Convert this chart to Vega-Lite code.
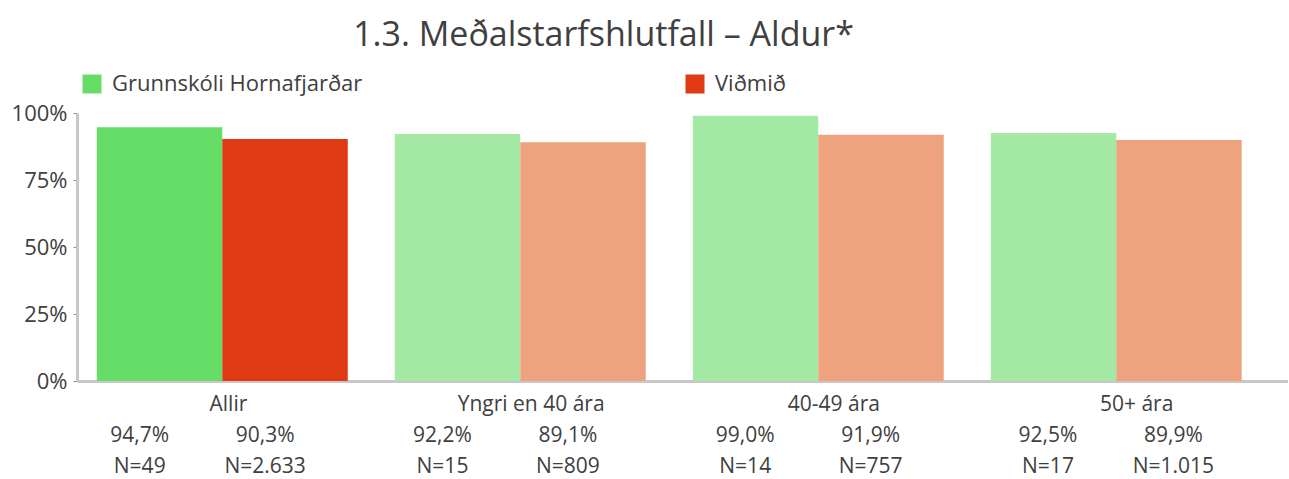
{
  "$schema": "https://vega.github.io/schema/vega-lite/v6.json",
  "padding": {"left": 11, "top": 19, "right": 0, "bottom": 0},
  "config": {
    "font": "Open Sans",
    "view": {"stroke": null},
    "locale": {"number": {"decimal": ",", "thousands": ".", "grouping": [3], "currency": ["", " kr."]}},
    "text": {"color": "#404040"}
  },
  "title": {"text": "1.3. Meðalstarfshlutfall – Aldur*", "fontSize": 34, "fontWeight": "normal", "color": "#404040", "font": "Open Sans", "anchor": "middle", "dx": -46, "offset": 20},
  "data": {"values": [
    {"aldur": "Allir", "hopur": "Grunnskóli Hornafjarðar", "pct": 0.947, "n": 49},
    {"aldur": "Allir", "hopur": "Viðmið", "pct": 0.903, "n": 2633},
    {"aldur": "Yngri en 40 ára", "hopur": "Grunnskóli Hornafjarðar", "pct": 0.922, "n": 15},
    {"aldur": "Yngri en 40 ára", "hopur": "Viðmið", "pct": 0.891, "n": 809},
    {"aldur": "40-49 ára", "hopur": "Grunnskóli Hornafjarðar", "pct": 0.990, "n": 14},
    {"aldur": "40-49 ára", "hopur": "Viðmið", "pct": 0.919, "n": 757},
    {"aldur": "50+ ára", "hopur": "Grunnskóli Hornafjarðar", "pct": 0.925, "n": 17},
    {"aldur": "50+ ára", "hopur": "Viðmið", "pct": 0.899, "n": 1015}
  ]},
  "spacing": 0,
  "vconcat": [
    {
      "width": 1211,
      "height": 268,
      "mark": {"type": "bar"},
      "encoding": {
        "x": {"field": "aldur", "type": "nominal",
              "scale": {"domain": ["Allir", "Yngri en 40 ára", "40-49 ára", "50+ ára"], "paddingInner": 0.158, "paddingOuter": 0.111, "align": 0.3},
              "axis": {"labels": false, "ticks": false, "title": null, "domainColor": "#c8c8c8", "domainWidth": 3}},
        "xOffset": {"field": "hopur", "type": "nominal", "scale": {"domain": ["Grunnskóli Hornafjarðar", "Viðmið"], "padding": 0}},
        "y": {"field": "pct", "type": "quantitative",
              "scale": {"domain": [0, 1], "nice": false},
              "axis": {"values": [0, 0.25, 0.5, 0.75, 1], "format": ".0%", "title": null, "grid": false,
                       "labelFontSize": 22, "labelColor": "#404040", "labelFont": "Open Sans", "tickSize": 4, "tickColor": "#909090",
                       "domainColor": "#c8c8c8", "domainWidth": 3, "labelPadding": 6}},
        "color": {
          "condition": [
            {"test": "datum.aldur !== 'Allir' && datum.hopur === 'Grunnskóli Hornafjarðar'", "value": "#a4e9a4"},
            {"test": "datum.aldur !== 'Allir' && datum.hopur === 'Viðmið'", "value": "#eea27e"}
          ],
          "field": "hopur", "type": "nominal",
          "scale": {"domain": ["Grunnskóli Hornafjarðar", "Viðmið"], "range": ["#66dd66", "#df3a13"]},
          "legend": {"orient": "none", "legendX": 4, "legendY": -40, "direction": "horizontal", "columns": 2, "columnPadding": 321,
                     "title": null, "symbolType": "square", "symbolSize": 361, "symbolStrokeWidth": 0,
                     "labelFontSize": 22, "labelColor": "#404040", "labelFont": "Open Sans", "labelOffset": 9, "labelLimit": 400}
        }
      }
    },
    {
      "width": 1211,
      "height": 88,
      "encoding": {
        "x": {"field": "aldur", "type": "nominal",
              "scale": {"domain": ["Allir", "Yngri en 40 ára", "40-49 ára", "50+ ára"], "paddingInner": 0, "paddingOuter": 0},
              "axis": null}
      },
      "resolve": {"scale": {"y": "shared"}},
      "layer": [
        {
          "transform": [{"filter": "datum.hopur === 'Viðmið'"}],
          "mark": {"type": "text", "fontSize": 21, "baseline": "middle"},
          "encoding": {
            "y": {"datum": "grp", "type": "ordinal", "scale": {"type": "point", "domain": ["grp", "pct", "N"], "padding": 0.42}, "axis": null},
            "text": {"field": "aldur"}
          }
        },
        {
          "mark": {"type": "text", "fontSize": 21, "baseline": "middle"},
          "encoding": {
            "xOffset": {"field": "hopur", "type": "nominal", "scale": {"domain": ["Grunnskóli Hornafjarðar", "Viðmið"], "padding": 0}},
            "y": {"datum": "pct", "type": "ordinal"},
            "text": {"field": "pct", "type": "quantitative", "format": ".1%"}
          }
        },
        {
          "transform": [{"calculate": "'N=' + format(datum.n, ',')", "as": "nlabel"}],
          "mark": {"type": "text", "fontSize": 21, "baseline": "middle"},
          "encoding": {
            "xOffset": {"field": "hopur", "type": "nominal", "scale": {"domain": ["Grunnskóli Hornafjarðar", "Viðmið"], "padding": 0}},
            "y": {"datum": "N", "type": "ordinal"},
            "text": {"field": "nlabel"}
          }
        }
      ]
    }
  ]
}
